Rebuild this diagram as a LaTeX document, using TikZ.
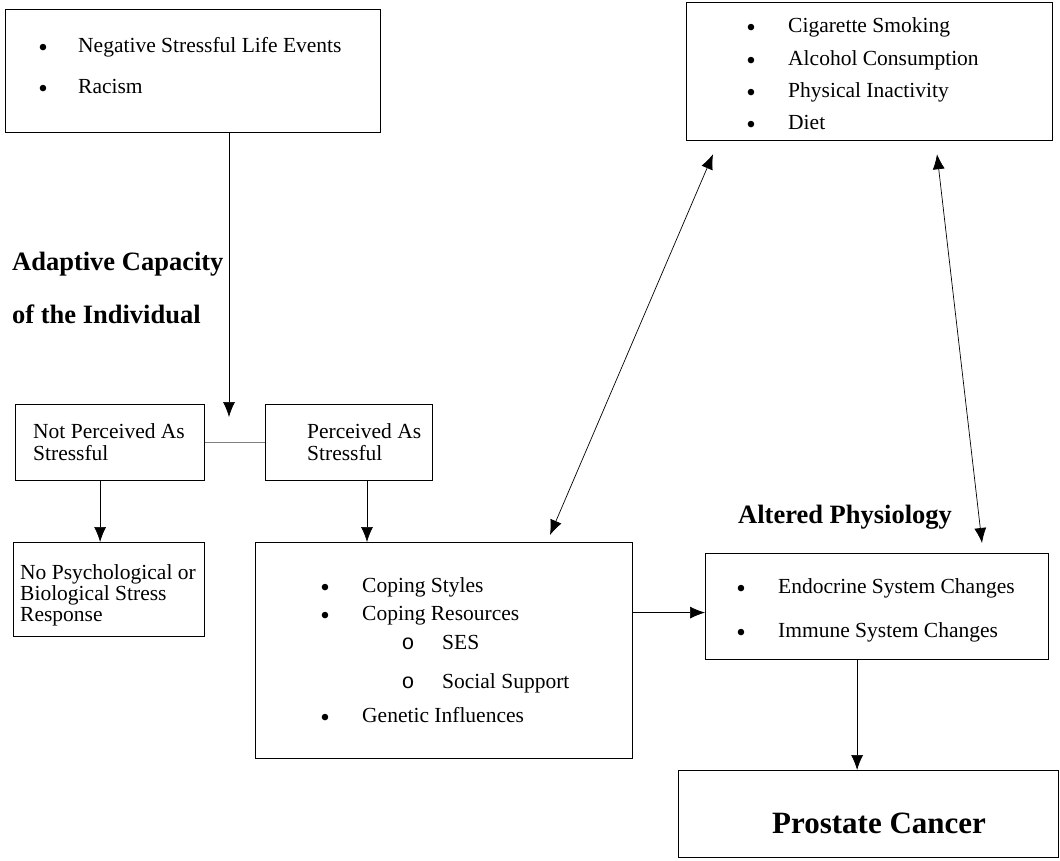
\documentclass[tikz,border=0pt]{standalone}
\usepackage{fontspec}
\setmainfont{Liberation Serif}
\setmonofont{Liberation Mono}
\usetikzlibrary{arrows.meta, calc}

\tikzset{
    box/.style = {draw, line width = 1.2pt, anchor = north west, inner sep = 0pt},
    item/.style = {anchor = base west, inner sep = 0pt, font = \fontsize{21.5}{24}\selectfont},
    dot/.style = {anchor = base, inner sep = 0pt, yshift = -4pt, font = \fontsize{27}{30}\selectfont},
    subdot/.style = {anchor = base, inner sep = 0pt, font = \fontsize{21.5}{24}\selectfont\ttfamily},
    head/.style = {anchor = base west, inner sep = 0pt, font = \fontsize{26.5}{30}\selectfont\bfseries},
    link/.style = {line width = 0.7pt, -{Latex[length = 15pt, width = 12pt]}},
    both/.style = {line width = 0.7pt, {Latex[length = 15pt, width = 12pt]}-{Latex[length = 15pt, width = 12pt]}},
}

\begin{document}
\begin{tikzpicture}[x = 1pt, y = -1pt]
    \useasboundingbox (0,0) rectangle (1060,861);

    %% boxes
    \node [box, minimum width = 375pt, minimum height = 123pt] (events) at (5,9) {};
    \node [box, minimum width = 366pt, minimum height = 138pt] (habits) at (686,2) {};
    \node [box, minimum width = 189pt, minimum height = 76pt] (notperc) at (15,404) {};
    \node [box, minimum width = 167pt, minimum height = 76pt] (perc) at (265,404) {};
    \node [box, minimum width = 191pt, minimum height = 94pt] (noresp) at (13,542) {};
    \node [box, minimum width = 377pt, minimum height = 216pt] (coping) at (255,542) {};
    \node [box, minimum width = 343pt, minimum height = 106pt] (physio) at (705,553) {};
    \node [box, minimum width = 380pt, minimum height = 87pt] (cancer) at (678,770) {};

    %% stressors
    \node [dot] (ev1) at (43,53) {•};
    \node [item] (evtext1) at (78,53) {Negative Stressful Life Events};
    \node [dot] (ev2) at (43,94) {•};
    \node [item] (evtext2) at (78,94) {Racism};

    %% health habits
    \node [dot] (hb1) at (751,33) {•};
    \node [item] (hbtext1) at (788,33) {Cigarette Smoking};
    \node [dot] (hb2) at (751,66) {•};
    \node [item] (hbtext2) at (788,66) {Alcohol Consumption};
    \node [dot] (hb3) at (751,98) {•};
    \node [item] (hbtext3) at (788,98) {Physical Inactivity};
    \node [dot] (hb4) at (751,130) {•};
    \node [item] (hbtext4) at (788,130) {Diet};

    %% labels
    \node [head] (adapt1) at (12,270) {Adaptive Capacity};
    \node [head] (adapt2) at (12,323) {of the Individual};
    \node [head] (altered) at (738,523) {Altered Physiology};

    %% appraisal
    \node [item] (nptext1) at (33,438) {Not Perceived As};
    \node [item] (nptext2) at (33,460) {Stressful};
    \node [item] (ptext1) at (307,438) {Perceived As};
    \node [item] (ptext2) at (307,460) {Stressful};
    \node [item] (nrtext1) at (20,579) {No Psychological or};
    \node [item] (nrtext2) at (20,600) {Biological Stress};
    \node [item] (nrtext3) at (20,621) {Response};

    %% coping
    \node [dot] (cp1) at (325,592) {•};
    \node [item] (cptext1) at (362,592) {Coping Styles};
    \node [dot] (cp2) at (325,620) {•};
    \node [item] (cptext2) at (362,620) {Coping Resources};
    \node [subdot] (cp3) at (408,649) {o};
    \node [item] (cptext3) at (442,649) {SES};
    \node [subdot] (cp4) at (408,688) {o};
    \node [item] (cptext4) at (442,688) {Social Support};
    \node [dot] (cp5) at (325,722) {•};
    \node [item] (cptext5) at (362,722) {Genetic Influences};

    %% physiology
    \node [dot] (ph1) at (741,593) {•};
    \node [item] (phtext1) at (778,593) {Endocrine System Changes};
    \node [dot] (ph2) at (741,637) {•};
    \node [item] (phtext2) at (778,637) {Immune System Changes};

    \node [anchor = base west, inner sep = 0pt, font = \fontsize{31}{34}\selectfont\bfseries] (cantext) at (772,833) {Prostate Cancer};

    %% connectors
    \coordinate (split) at (229,417);
    \coordinate (drop) at (367,0);
    \draw [link] (events.south -| split) -- (split);
    \draw [line width = 0.7pt, gray] (notperc.east) -- (perc.west);
    \draw [link] ([xshift = -10pt]notperc.south) -- ([xshift = -10pt]notperc.south |- noresp.north);
    \draw [link] (perc.south -| drop) -- (coping.north -| drop);
    \draw [link] ([yshift = 38pt]coping.east) -- ([yshift = 38pt]coping.east -| physio.west);
    \draw [link] ([xshift = -20pt]physio.south) -- ([xshift = -20pt]physio.south |- cancer.north);
    \draw [both] ($(habits.south west) + (27,13)$) -- ($(coping.north west) + (295,-7)$);
    \draw [both] ($(habits.south west) + (251,13)$) -- ($(physio.north west) + (277,-10)$);

\end{tikzpicture}
\end{document}
